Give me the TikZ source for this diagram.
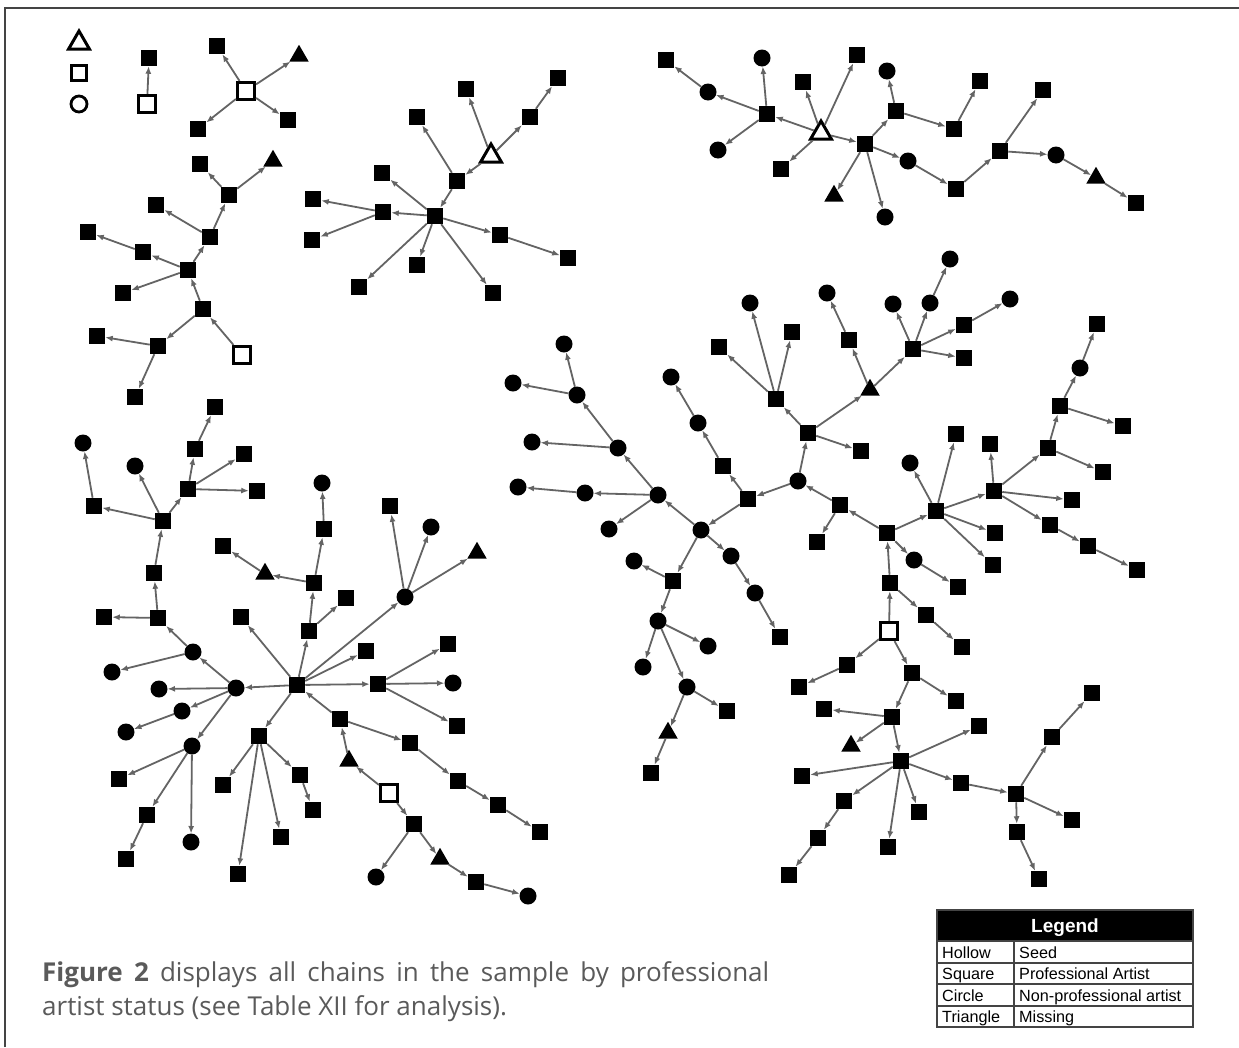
\documentclass[tikz,border=0pt]{standalone}
\usepackage{fontspec}
\setmainfont{Liberation Sans}
\newfontfamily\capfont{Open Sans}
\usetikzlibrary{arrows.meta,shapes.geometric}
\definecolor{edgegray}{HTML}{646464}
\definecolor{captiongray}{HTML}{5A5A5A}
\definecolor{framegray}{HTML}{444444}
\begin{document}
\begin{tikzpicture}[x=1pt,y=-1pt,
 sq/.style={rectangle,fill=black,minimum size=16.5pt,inner sep=0pt,outer sep=0pt},
 ci/.style={circle,fill=black,minimum size=17pt,inner sep=0pt,outer sep=0pt},
 tr/.style={regular polygon,regular polygon sides=3,fill=black,minimum size=22.5pt,inner sep=0pt,outer sep=0pt},
 hsq/.style={rectangle,draw=black,line width=2.7pt,fill=white,minimum size=17.5pt,inner sep=0pt,outer sep=1.35pt},
 htr/.style={regular polygon,regular polygon sides=3,draw=black,line width=3pt,fill=white,minimum size=24pt,inner sep=0pt,outer sep=1.5pt},
 hci/.style={circle,draw=black,line width=2.8pt,fill=white,minimum size=16pt,inner sep=0pt},
 ed/.style={draw=edgegray,line width=1.8pt,-{Latex[length=7.5pt,width=6pt]}},
 tabline/.style={draw=framegray,line width=1.3pt},
 tabtext/.style={anchor=base west,inner sep=0pt,font=\fontsize{16.2}{18}\selectfont},
 captext/.style={anchor=base west,inner sep=0pt,font=\capfont\fontsize{26}{30}\selectfont,text=captiongray},
]
\useasboundingbox (0,0) rectangle (1239,1047);
\fill[white] (0,0) rectangle (1239,1047);
% frame
\draw[framegray,line width=1.5pt] (5,1047) -- (5,8) -- (1239,8);

% legend symbols top-left
\node[htr] (lt) at (79,43) {};
\node[hsq,minimum size=15.5pt,line width=3pt] (ls) at (79,73) {};
\node[hci] (lc) at (79,104) {};

% component A
\node[hsq] (a1) at (147,104) {};
\node[sq] (a2) at (149,58) {};

% component B
\node[hsq] (b0) at (246,91) {};
\node[sq] (b1) at (217,46) {};
\node[tr] (b2) at (299,56) {};
\node[sq] (b3) at (198,129) {};
\node[sq] (b4) at (288,120) {};

% component C
\node[hsq] (c0) at (242,355) {};
\node[sq] (c1) at (203,309) {};
\node[sq] (c2) at (188,270) {};
\node[sq] (c3) at (158,346) {};
\node[sq] (c4) at (97,336) {};
\node[sq] (c5) at (135,397) {};
\node[sq] (c6) at (210,237) {};
\node[sq] (c7) at (143,252) {};
\node[sq] (c8) at (123,293) {};
\node[sq] (c9) at (88,232) {};
\node[sq] (c10) at (229,195) {};
\node[sq] (c11) at (156,205) {};
\node[sq] (c12) at (200,164) {};
\node[tr] (c13) at (273,161) {};

% component D
\node[htr] (d0) at (491,156) {};
\node[sq] (d1) at (466,89) {};
\node[sq] (d2) at (530,117) {};
\node[sq] (d3) at (457,181) {};
\node[sq] (d4) at (558,78) {};
\node[sq] (d5) at (417,117) {};
\node[sq] (d6) at (435,216) {};
\node[sq] (d7) at (382,173) {};
\node[sq] (d8) at (383,212) {};
\node[sq] (d9) at (500,235) {};
\node[sq] (d10) at (417,265) {};
\node[sq] (d11) at (359,287) {};
\node[sq] (d12) at (493,293) {};
\node[sq] (d13) at (313,199) {};
\node[sq] (d14) at (312,240) {};
\node[sq] (d15) at (568,258) {};

% component E
\node[sq] (e1) at (666,60) {};
\node[ci] (e2) at (762,58) {};
\node[sq] (e3) at (857,55) {};
\node[ci] (e4) at (887,71) {};
\node[sq] (e5) at (980,81) {};
\node[sq] (e6) at (1043,90) {};
\node[ci] (e7) at (708,92) {};
\node[sq] (e8) at (803,82) {};
\node[sq] (e9) at (767,114) {};
\node[sq] (e10) at (896,111) {};
\node[sq] (e11) at (954,129) {};
\node[htr] (e12) at (821,133) {};
\node[sq] (e13) at (865,144) {};
\node[ci] (e14) at (718,150) {};
\node[sq] (e15) at (781,169) {};
\node[ci] (e16) at (908,161) {};
\node[sq] (e17) at (1000,151) {};
\node[ci] (e18) at (1056,155) {};
\node[tr] (e19) at (1096,178) {};
\node[sq] (e20) at (956,189) {};
\node[tr] (e21) at (834,196) {};
\node[sq] (e22) at (1136,203) {};
\node[ci] (e23) at (885,217) {};

% component F
\node[hsq] (f0) at (389,793) {};
\node[tr] (f1) at (349,761) {};
\node[sq] (f2) at (414,824) {};
\node[sq] (f3) at (340,719) {};
\node[sq] (f4) at (297,685) {};
\node[sq] (f5) at (410,743) {};
\node[sq] (f6) at (458,781) {};
\node[sq] (f7) at (498,805) {};
\node[sq] (f8) at (540,832) {};
\node[ci] (f9) at (376,877) {};
\node[tr] (f10) at (440,859) {};
\node[sq] (f11) at (476,882) {};
\node[ci] (f12) at (528,896) {};
\node[ci] (f13) at (236,688) {};
\node[sq] (f14) at (241,617) {};
\node[sq] (f15) at (309,631) {};
\node[ci] (f16) at (405,597) {};
\node[sq] (f17) at (366,651) {};
\node[sq] (f18) at (378,684) {};
\node[sq] (f19) at (259,736) {};
\node[sq] (f20) at (346,598) {};
\node[sq] (f21) at (314,583) {};
\node[tr] (f22) at (265,574) {};
\node[sq] (f23) at (324,529) {};
\node[sq] (f24) at (223,546) {};
\node[ci] (f25) at (322,483) {};
\node[sq] (f26) at (390,506) {};
\node[ci] (f27) at (431,527) {};
\node[tr] (f28) at (477,553) {};
\node[sq] (f29) at (448,644) {};
\node[ci] (f30) at (453,683) {};
\node[sq] (f31) at (457,726) {};
\node[sq] (f32) at (223,785) {};
\node[sq] (f33) at (238,874) {};
\node[sq] (f34) at (281,837) {};
\node[sq] (f35) at (300,775) {};
\node[sq] (f36) at (313,810) {};
\node[ci] (f37) at (193,652) {};
\node[ci] (f38) at (159,689) {};
\node[ci] (f39) at (182,711) {};
\node[ci] (f40) at (192,746) {};
\node[ci] (f41) at (112,672) {};
\node[sq] (f42) at (158,618) {};
\node[ci] (f43) at (126,732) {};
\node[sq] (f44) at (119,779) {};
\node[sq] (f45) at (147,815) {};
\node[ci] (f46) at (191,842) {};
\node[sq] (f47) at (126,859) {};
\node[sq] (f48) at (104,617) {};
\node[sq] (f49) at (154,573) {};
\node[sq] (f50) at (163,521) {};
\node[sq] (f51) at (94,506) {};
\node[ci] (f52) at (135,466) {};
\node[sq] (f53) at (188,489) {};
\node[ci] (f54) at (83,443) {};
\node[sq] (f55) at (195,449) {};
\node[sq] (f56) at (244,454) {};
\node[sq] (f57) at (257,491) {};
\node[sq] (f58) at (215,407) {};

% component G
\node[hsq] (g0) at (889,631) {};
\node[sq] (g1) at (890,583) {};
\node[sq] (g2) at (847,665) {};
\node[sq] (g3) at (912,673) {};
\node[sq] (g4) at (799,687) {};
\node[sq] (g5) at (956,701) {};
\node[sq] (g6) at (892,717) {};
\node[sq] (g7) at (824,709) {};
\node[tr] (g8) at (851,746) {};
\node[sq] (g9) at (901,761) {};
\node[sq] (g10) at (979,726) {};
\node[sq] (g11) at (802,776) {};
\node[sq] (g12) at (844,801) {};
\node[sq] (g13) at (888,847) {};
\node[sq] (g14) at (919,812) {};
\node[sq] (g15) at (961,783) {};
\node[sq] (g16) at (818,838) {};
\node[sq] (g17) at (789,875) {};
\node[sq] (g18) at (1016,794) {};
\node[sq] (g19) at (1052,737) {};
\node[sq] (g20) at (1092,693) {};
\node[sq] (g21) at (1072,820) {};
\node[sq] (g22) at (1017,832) {};
\node[sq] (g23) at (1039,879) {};
\node[sq] (g24) at (887,533) {};
\node[sq] (g25) at (926,615) {};
\node[sq] (g26) at (962,647) {};
\node[sq] (g27) at (840,505) {};
\node[ci] (g28) at (914,560) {};
\node[sq] (g29) at (936,511) {};
\node[sq] (g30) at (958,587) {};
\node[ci] (g31) at (798,481) {};
\node[sq] (g32) at (817,542) {};
\node[sq] (g33) at (808,433) {};
\node[sq] (g34) at (748,499) {};
\node[sq] (g35) at (776,399) {};
\node[tr] (g36) at (870,390) {};
\node[sq] (g37) at (861,451) {};
\node[sq] (g38) at (719,347) {};
\node[ci] (g39) at (750,303) {};
\node[sq] (g40) at (792,332) {};
\node[sq] (g41) at (849,340) {};
\node[sq] (g42) at (913,349) {};
\node[ci] (g43) at (827,293) {};
\node[ci] (g44) at (893,304) {};
\node[ci] (g45) at (930,303) {};
\node[sq] (g46) at (964,325) {};
\node[sq] (g47) at (964,358) {};
\node[ci] (g48) at (950,259) {};
\node[ci] (g49) at (1010,299) {};
\node[ci] (g50) at (910,463) {};
\node[sq] (g51) at (956,434) {};
\node[sq] (g52) at (994,491) {};
\node[sq] (g53) at (995,533) {};
\node[sq] (g54) at (993,565) {};
\node[sq] (g55) at (990,444) {};
\node[sq] (g56) at (1048,448) {};
\node[sq] (g57) at (1072,500) {};
\node[sq] (g58) at (1050,525) {};
\node[sq] (g59) at (1060,406) {};
\node[sq] (g60) at (1103,472) {};
\node[ci] (g61) at (1080,368) {};
\node[sq] (g62) at (1123,426) {};
\node[sq] (g63) at (1097,324) {};
\node[sq] (g64) at (1088,546) {};
\node[sq] (g65) at (1137,570) {};
\node[sq] (g66) at (723,466) {};
\node[ci] (g67) at (701,530) {};
\node[ci] (g68) at (698,423) {};
\node[ci] (g69) at (671,377) {};
\node[ci] (g70) at (658,495) {};
\node[ci] (g71) at (731,556) {};
\node[sq] (g72) at (673,581) {};
\node[ci] (g73) at (755,593) {};
\node[sq] (g74) at (780,637) {};
\node[ci] (g75) at (618,448) {};
\node[ci] (g76) at (585,493) {};
\node[ci] (g77) at (609,529) {};
\node[ci] (g78) at (577,395) {};
\node[ci] (g79) at (532,442) {};
\node[ci] (g80) at (564,344) {};
\node[ci] (g81) at (513,383) {};
\node[ci] (g82) at (518,487) {};
\node[ci] (g83) at (634,561) {};
\node[ci] (g84) at (658,621) {};
\node[ci] (g85) at (708,646) {};
\node[ci] (g86) at (643,667) {};
\node[ci] (g87) at (687,687) {};
\node[sq] (g88) at (727,711) {};
\node[tr] (g89) at (668,733) {};
\node[sq] (g90) at (651,773) {};

% edges
\foreach \a/\b in {a1/a2,
 b0/b1,b0/b2,b0/b3,b0/b4,
 c0/c1,c1/c2,c1/c3,c3/c4,c3/c5,c2/c6,c2/c7,c2/c8,c7/c9,c6/c10,c6/c11,c10/c12,c10/c13,
 d0/d1,d0/d2,d0/d3,d2/d4,d3/d5,d3/d6,d6/d7,d6/d8,d6/d9,d6/d10,d6/d11,d6/d12,d8/d13,d8/d14,d9/d15,
 e12/e9,e12/e8,e12/e3,e12/e15,e12/e13,e9/e7,e9/e2,e9/e14,e7/e1,e13/e10,e13/e16,e13/e21,e13/e23,e10/e4,e10/e11,e11/e5,e16/e20,e20/e17,e17/e6,e17/e18,e18/e19,e19/e22,
 f0/f1,f0/f2,f1/f3,f3/f4,f3/f5,f5/f6,f6/f7,f7/f8,f2/f9,f2/f10,f10/f11,f11/f12,f4/f13,f4/f14,f4/f15,f4/f16,f4/f17,f4/f18,f4/f19,f15/f20,f15/f21,f21/f22,f21/f23,f22/f24,f23/f25,f16/f26,f16/f27,f16/f28,f18/f29,f18/f30,f18/f31,f19/f32,f19/f33,f19/f34,f19/f35,f35/f36,f13/f37,f13/f38,f13/f39,f13/f40,f37/f41,f37/f42,f39/f43,f40/f44,f40/f45,f40/f46,f45/f47,f42/f48,f42/f49,f49/f50,f50/f51,f50/f52,f50/f53,f51/f54,f53/f55,f53/f56,f53/f57,f55/f58,
 g0/g1,g0/g2,g0/g3,g2/g4,g3/g5,g3/g6,g6/g7,g6/g8,g6/g9,g9/g10,g9/g11,g9/g12,g9/g13,g9/g14,g9/g15,g12/g16,g16/g17,g15/g18,g18/g19,g19/g20,g18/g21,g18/g22,g22/g23,g1/g24,g1/g25,g25/g26,g24/g27,g24/g28,g24/g29,g28/g30,g27/g31,g27/g32,g31/g33,g31/g34,g33/g35,g33/g36,g33/g37,g35/g38,g35/g39,g35/g40,g36/g41,g36/g42,g41/g43,g42/g44,g42/g45,g42/g46,g42/g47,g45/g48,g46/g49,g29/g50,g29/g51,g29/g52,g29/g53,g29/g54,g52/g55,g52/g56,g52/g57,g52/g58,g56/g59,g56/g60,g59/g61,g59/g62,g61/g63,g58/g64,g64/g65,g34/g66,g34/g67,g66/g68,g68/g69,g67/g70,g67/g71,g67/g72,g71/g73,g73/g74,g70/g75,g70/g76,g70/g77,g75/g78,g75/g79,g78/g80,g78/g81,g76/g82,g72/g83,g72/g84,g84/g85,g84/g86,g84/g87,g87/g88,g87/g89,g89/g90}
 \draw[ed] (\a) -- (\b);

% legend table
\fill[black] (937,910) rectangle (1193,941);
\node[anchor=base,inner sep=0pt,text=white,font=\bfseries\fontsize{19}{19}\selectfont] (legtitle) at (1065,932.5) {Legend};
\draw[tabline] (937,910) rectangle (1193,1027);
\draw[tabline] (937,941) -- (1193,941);
\draw[tabline] (937,963) -- (1193,963);
\draw[tabline] (937,984) -- (1193,984);
\draw[tabline] (937,1006) -- (1193,1006);
\draw[tabline] (1014,941) -- (1014,1027);
\node[tabtext] (t1a) at (942,958) {Hollow};
\node[tabtext] (t1b) at (1019,958) {Seed};
\node[tabtext] (t2a) at (942,979.5) {Square};
\node[tabtext] (t2b) at (1019,979.5) {Professional Artist};
\node[tabtext] (t3a) at (942,1001) {Circle};
\node[tabtext] (t3b) at (1019,1001) {Non-professional artist};
\node[tabtext] (t4a) at (942,1022.5) {Triangle};
\node[tabtext] (t4b) at (1019,1022.5) {Missing};

% caption
\node[captext] (cap1) at (42,981) {\makebox[727pt][s]{\textbf{Figure 2} displays all chains in the sample by professional}};
\node[captext] (cap2) at (42,1015) {artist status (see Table XII for analysis).};
\end{tikzpicture}
\end{document}
